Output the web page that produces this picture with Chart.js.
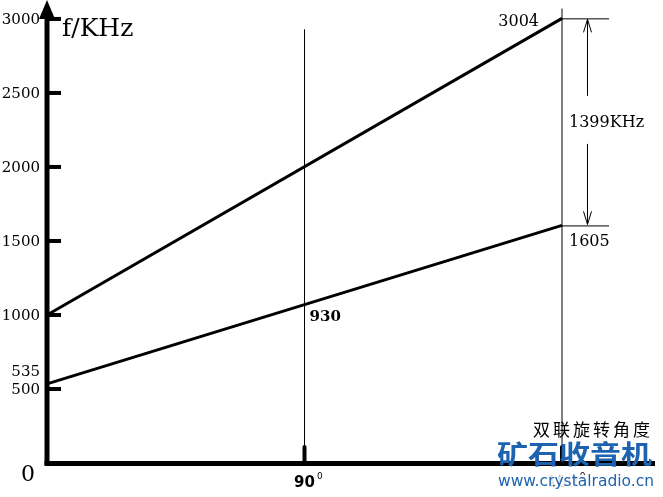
<!DOCTYPE html>
<html>
<head>
<meta charset="utf-8">
<script src="https://cdn.jsdelivr.net/npm/chart.js@4"></script>
<style>
html,body{margin:0;padding:0;background:#fff;}
canvas{display:block;}
</style>
</head>
<body>
<canvas id="c" width="663" height="497"></canvas>
<script>
// ---- data ----
const angles = [0, 180];            // rotation angle (degrees)
const upperFreq = [1000, 3004];     // kHz
const lowerFreq = [535, 1605];      // kHz
const yTicks = [500, 1000, 1500, 2000, 2500, 3000];
const xTicks = [90, 180];
const xTickLabels = ['90', '180'];
const guideX = [90, 180];
const guideTop = [2930, 3070];
const midLabelValue = '930';
const spanLabel = '1399KHz';
const yTitle = 'f/KHz';
const xTitle = '双联旋转角度';
const wmTitle = '矿石收音机';
const wmUrl = 'www.crystalradio.cn';

const serif = '"DejaVu Serif", "Liberation Serif", serif';

const upperData = angles.map((a, i) => ({x: a, y: upperFreq[i]}));
const lowerData = angles.map((a, i) => ({x: a, y: lowerFreq[i]}));
const guideSets = guideX.map((gx, i) => ({
  data: [{x: gx, y: 0}, {x: gx, y: guideTop[i]}],
  borderColor: '#000', borderWidth: 1, pointRadius: 0, clip: false
}));

const decor = {
  id: 'decor',
  afterDatasetsDraw(chart) {
    const ctx = chart.ctx;
    const xs = chart.scales.x, ys = chart.scales.y;
    const L = xs.getPixelForValue(0), B = ys.getPixelForValue(0);
    const R = chart.chartArea.right;
    ctx.save();
    ctx.fillStyle = '#000'; ctx.strokeStyle = '#000';
    // y axis
    ctx.fillRect(L - 2.5, 14, 5, B - 14 + 2);
    ctx.beginPath();
    ctx.moveTo(L, 0); ctx.lineTo(L - 8, 19); ctx.lineTo(L + 8, 19); ctx.closePath(); ctx.fill();
    // x axis
    ctx.fillRect(L - 2.5, B - 2, R - L + 2.5, 5);
    // y ticks
    ctx.font = '15px ' + serif;
    ctx.textAlign = 'right'; ctx.textBaseline = 'middle';
    yTicks.forEach(v => {
      const y = ys.getPixelForValue(v);
      ctx.fillRect(L, y - 2, 14, 4);
      ctx.fillText(String(v), 40, y + 1);
    });
    // start label 535
    ctx.fillText(String(lowerFreq[0]), 40, ys.getPixelForValue(lowerFreq[0]) - 12);
    // origin 0
    ctx.font = '22px ' + serif; ctx.textAlign = 'center';
    ctx.fillText('0', 28, B + 12);
    // x ticks
    xTicks.forEach((v, i) => {
      const x = xs.getPixelForValue(v);
      ctx.beginPath(); ctx.lineWidth = 4; ctx.lineCap = 'round';
      ctx.moveTo(x, B - 16); ctx.lineTo(x, B); ctx.stroke();
      ctx.font = 'bold 15px "DejaVu Sans", sans-serif'; ctx.textAlign = 'center';
      ctx.fillText(xTickLabels[i], x, B + 20);
      const w = ctx.measureText(xTickLabels[i]).width;
      ctx.font = '9px "DejaVu Sans", sans-serif'; ctx.textAlign = 'left';
      ctx.fillText('0', x + w / 2 + 2, B + 14);
    });
    // y title
    ctx.font = '25px ' + serif; ctx.textAlign = 'left';
    ctx.fillText(yTitle, 62, 29);
    // end points annotations
    const xe = xs.getPixelForValue(angles[1]);
    const yu = ys.getPixelForValue(upperFreq[1]);
    const yl = ys.getPixelForValue(lowerFreq[1]);
    ctx.font = '16px ' + serif;
    ctx.textAlign = 'right';
    ctx.fillText(String(upperFreq[1]), xe - 23, yu + 3);
    ctx.textAlign = 'left';
    ctx.fillText(String(lowerFreq[1]), xe + 7, yl + 16);
    ctx.lineWidth = 1; ctx.lineCap = 'butt';
    ctx.beginPath();
    ctx.moveTo(xe, yu + 0.5); ctx.lineTo(xe + 47, yu + 0.5);
    ctx.moveTo(xe, yl + 0.5); ctx.lineTo(xe + 47, yl + 0.5);
    // dimension arrow
    const xa = xe + 25.5, ym = (yu + yl) / 2;
    ctx.moveTo(xa, yu + 1); ctx.lineTo(xa, ym - 26);
    ctx.moveTo(xa, ym + 22); ctx.lineTo(xa, yl - 1);
    ctx.moveTo(xa - 4, yu + 14); ctx.lineTo(xa, yu + 1); ctx.lineTo(xa + 4, yu + 14);
    ctx.moveTo(xa - 4, yl - 14); ctx.lineTo(xa, yl - 1); ctx.lineTo(xa + 4, yl - 14);
    ctx.stroke();
    ctx.fillText(spanLabel, xe + 7, ym + 1);
    // 930 label
    ctx.font = 'bold 15px ' + serif;
    ctx.fillText(midLabelValue, xs.getPixelForValue(90) + 5, 317);
    // x title
    ctx.font = '17px "Noto Sans CJK SC", sans-serif';
    ctx.letterSpacing = '3px';
    ctx.fillText(xTitle, 533, 430);
    ctx.letterSpacing = '0px';
    // watermark
    ctx.font = 'bold 31px "Noto Sans CJK SC", sans-serif';
    ctx.textAlign = 'left';
    ctx.fillStyle = '#1d63b0';
    ctx.save();
    ctx.translate(497, 454);
    ctx.scale(1, 0.85);
    ctx.fillText(wmTitle, 0, 0);
    ctx.restore();
    ctx.font = '15.5px "DejaVu Sans", sans-serif';
    ctx.strokeStyle = 'rgba(255,255,255,0.9)';
    ctx.lineWidth = 5; ctx.lineJoin = 'round';
    ctx.strokeText(wmUrl, 498, 482);
    ctx.fillText(wmUrl, 498, 482);
    ctx.restore();
  }
};

new Chart(document.getElementById('c'), {
  type: 'line',
  data: {
    datasets: [
      {data: upperData, borderColor: '#000', borderWidth: 3, pointRadius: 0, clip: false},
      {data: lowerData, borderColor: '#000', borderWidth: 3, pointRadius: 0, clip: false},
      ...guideSets
    ]
  },
  options: {
    responsive: false,
    animation: false,
    events: [],
    layout: {padding: {left: 47, right: 8, top: 0, bottom: 34}},
    plugins: {legend: {display: false}, tooltip: {enabled: false}},
    scales: {
      x: {type: 'linear', display: false, min: 0, max: 212.5},
      y: {type: 'linear', display: false, min: 0, max: 3128}
    }
  },
  plugins: [decor]
});
</script>
</body>
</html>
